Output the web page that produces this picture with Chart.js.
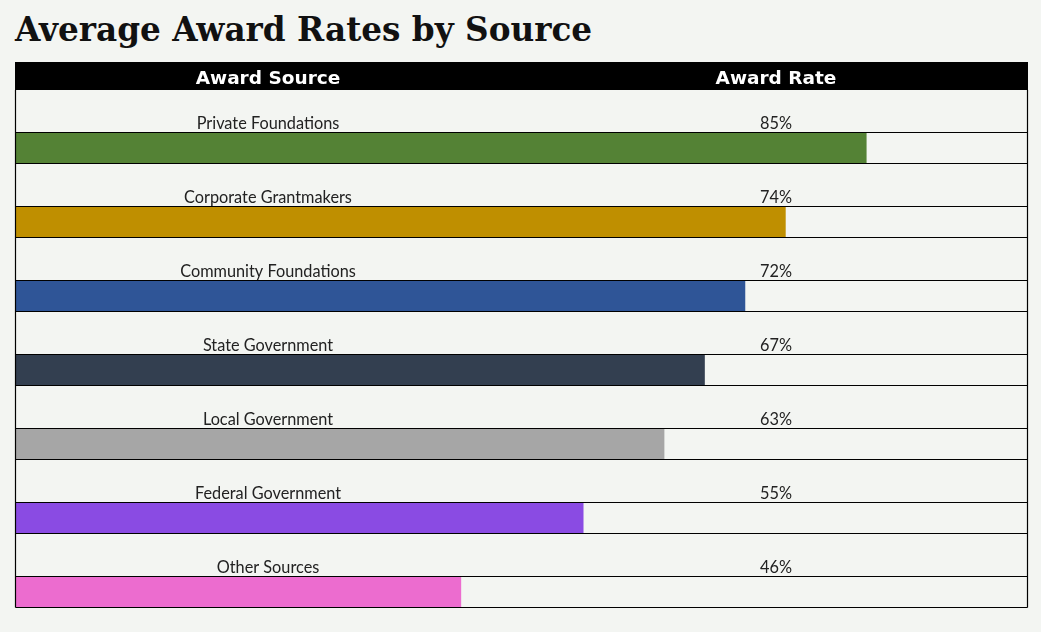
<!DOCTYPE html>
<html>
<head>
<meta charset="utf-8">
<script src="https://cdn.jsdelivr.net/npm/chart.js@4"></script>
<style>
    html, body { margin: 0; padding: 0; background: #f3f5f2; }
    #wrap { position: relative; width: 1041px; height: 632px; }
    #title {
        position: absolute; left: 15px; top: 10px; margin: 0;
        font-family: "DejaVu Serif", serif; font-weight: bold; font-size: 32.7px;
        line-height: 40px; color: #111; white-space: nowrap;
    }
    canvas { position: absolute; left: 0; top: 0; }
</style>
</head>
<body>
<div id="wrap">
    <h1 id="title">Average Award Rates by Source</h1>
    <canvas id="rates" width="1041" height="632"></canvas>
</div>
<script>
// --- DATA ---
const sources = ['Private Foundations', 'Corporate Grantmakers', 'Community Foundations', 'State Government',
    'Local Government', 'Federal Government', 'Other Sources'];
const awardRates = [85, 74, 72, 67, 63, 55, 46];            // printed rate text
const barLengths = [84.1, 76.1, 72.1, 68.1, 64.1, 56.1, 44.0]; // bar lengths as drawn, % of row width
const barColors = ['#548235', '#bf8f00', '#2f5597', '#333f50', '#a6a6a6', '#8a4be3', '#ec6ccf'];
const columnHeaders = ['Award Source', 'Award Rate'];

const FONT = '"Lato", "DejaVu Sans", sans-serif';
const HEAD_FONT = '"DejaVu Sans", sans-serif';

// --- TABLE DRAWING PLUGIN ---
const tablePlugin = {
    id: 'awardTable',
    afterDatasetsDraw(chart) {
        const { ctx, chartArea: area, scales: { y } } = chart;
        const left = area.left - 0.5, right = area.right + 0.5;
        const srcX = 268, rateX = 776;
        const half = 15;

        ctx.save();
        // header band
        ctx.fillStyle = '#000';
        ctx.fillRect(left - 0.5, 62, right - left + 1, 28);
        ctx.fillStyle = '#fff';
        ctx.font = 'bold 18.5px ' + HEAD_FONT;
        ctx.textAlign = 'center';
        ctx.textBaseline = 'alphabetic';
        ctx.fillText(columnHeaders[0], srcX, 83.5);
        ctx.fillText(columnHeaders[1], rateX, 83.5);

        ctx.strokeStyle = '#000';
        ctx.lineWidth = 1.2;
        let bottom = 90;
        sources.forEach((name, i) => {
            const c = y.getPixelForValue(i);
            const top = Math.round(c - half), bot = Math.round(c + half);
            ctx.fillStyle = '#222';
            ctx.font = '16.3px ' + FONT;
            ctx.fillText(name, srcX, top - 4);
            ctx.fillText(awardRates[i] + '%', rateX, top - 4);
            ctx.beginPath();
            ctx.moveTo(left, top - 0.5); ctx.lineTo(right, top - 0.5);
            ctx.moveTo(left, bot + 0.5); ctx.lineTo(right, bot + 0.5);
            ctx.stroke();
            bottom = bot + 0.5;
        });
        // side borders
        ctx.beginPath();
        ctx.moveTo(left, 90); ctx.lineTo(left, bottom);
        ctx.moveTo(right, 90); ctx.lineTo(right, bottom);
        ctx.stroke();
        ctx.restore();
    }
};

document.addEventListener('DOMContentLoaded', function () {
    new Chart(document.getElementById('rates'), {
        type: 'bar',
        data: {
            labels: sources,
            datasets: [{ data: barLengths, backgroundColor: barColors, borderWidth: 0, barThickness: 30 }]
        },
        options: {
            indexAxis: 'y',
            responsive: false,
            animation: false,
            layout: { padding: { left: 16, right: 14, top: 111, bottom: 3 } },
            scales: {
                x: { display: false, min: 0, max: 100 },
                y: { display: false }
            },
            plugins: { legend: { display: false }, tooltip: { enabled: false }, title: { display: false } }
        },
        plugins: [tablePlugin]
    });
});
</script>
</body>
</html>
